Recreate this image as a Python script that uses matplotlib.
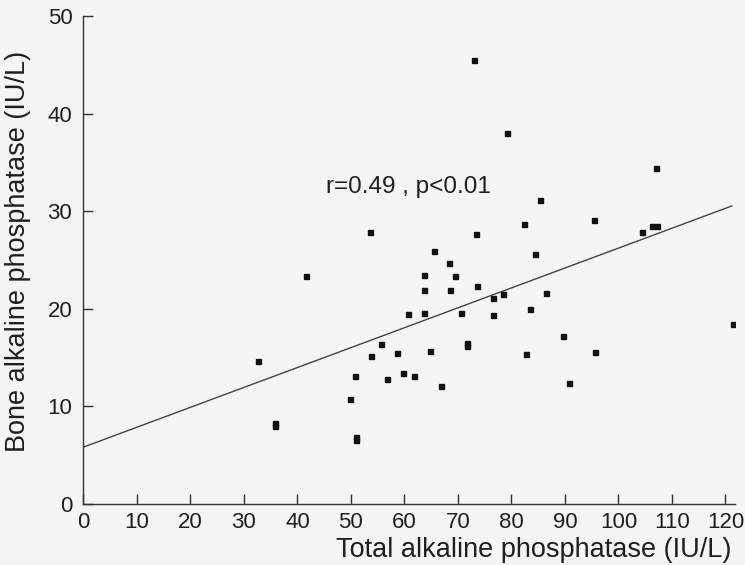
import matplotlib
matplotlib.use("Agg")
import matplotlib.pyplot as plt
import numpy as np

# Total vs bone alkaline phosphatase
total_alp = [73.1, 79.2, 107.1, 85.4, 82.4, 95.4, 106.3, 107.3, 104.4, 73.4,
             53.5, 41.6, 65.5, 84.4, 68.4, 63.6, 69.5, 63.6, 68.5, 73.5,
             86.5, 76.5, 78.5, 83.5, 60.7, 63.6, 70.6, 76.5, 89.6, 121.5,
             71.7, 71.7, 64.7, 82.7, 95.6, 59.7, 61.8, 66.8, 90.7, 55.7,
             53.8, 58.7, 32.7, 50.8, 56.8, 49.8, 35.9, 35.9, 50.9, 50.9]
bone_alp = [45.5, 38.0, 34.4, 31.1, 28.7, 29.1, 28.5, 28.5, 27.9, 27.7,
            27.9, 23.3, 25.9, 25.6, 24.7, 23.4, 23.3, 21.9, 21.9, 22.3,
            21.6, 21.1, 21.5, 20.0, 19.4, 19.5, 19.6, 19.3, 17.2, 18.4,
            16.5, 16.2, 15.7, 15.3, 15.6, 13.4, 13.1, 12.1, 12.4, 16.4,
            15.1, 15.4, 14.6, 13.1, 12.8, 10.7, 8.3, 8.0, 6.8, 6.5]

# regression line as drawn
fit_intercept = 5.8
fit_slope = 0.204
fit_x = [0, 121.2]

xticks = [0, 10, 20, 30, 40, 50, 60, 70, 80, 90, 100, 110, 120]
yticks = [0, 10, 20, 30, 40, 50]

plt.rcParams['font.family'] = ['Liberation Sans', 'DejaVu Sans']
bg = '#f5f5f3'
ink = '#1e1e1e'

fig = plt.figure(figsize=(7.45, 5.65), dpi=100, facecolor=bg)
ax = fig.add_axes([0.112, 0.1085, 0.8746, 0.8632], facecolor=bg)

fx = np.array(fit_x)
ax.plot(fx, fit_intercept + fit_slope * fx, color='#444444', lw=1.0)
ax.plot(total_alp, bone_alp, ls='none', marker='s', ms=3.6, color='#111111')

ax.text(45.3, 32.5, 'r=0.49 , p<0.01', fontsize=17.5, color=ink,
        ha='left', va='center')

ax.set_xlim(0, 121.8)
ax.set_ylim(0, 50)
ax.set_xticks(xticks)
ax.set_yticks(yticks)
for s in ['top', 'right']:
    ax.spines[s].set_visible(False)
for s in ['left', 'bottom']:
    ax.spines[s].set_color('#333333')
    ax.spines[s].set_linewidth(1.0)
ax.tick_params(direction='in', length=7, width=1, color='#333333',
               labelsize=16, labelcolor=ink)
ax.tick_params(axis='x', pad=6)
ax.tick_params(axis='y', pad=8)

ax.set_xlabel('Total alkaline phosphatase (IU/L)', fontsize=19.5, color=ink,
              va='center', ha='center')
ax.xaxis.set_label_coords(0.6915, -0.095)
ax.set_ylabel('Bone alkaline phosphatase (IU/L)', fontsize=19.5, color=ink,
              va='center', ha='center')
ax.yaxis.set_label_coords(-0.1005, 0.518)

fig.savefig('out.png', dpi=100, facecolor=bg)
